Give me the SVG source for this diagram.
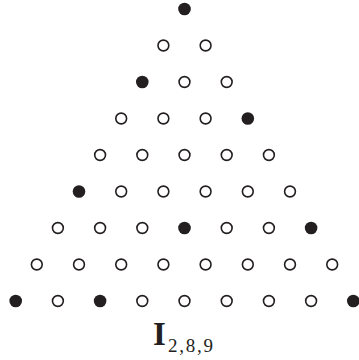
<svg xmlns="http://www.w3.org/2000/svg" width="359" height="360" viewBox="0 0 359 360">
<style>
.f{fill:#231f20}
.o{fill:#fff;stroke:#231f20;stroke-width:1.6}
.t{font-family:"Liberation Serif","DejaVu Serif",serif;fill:#231f20}
</style>
<rect width="359" height="360" fill="#fff"/>
<g id="dots">
<circle class="f" cx="184.5" cy="9" r="6.3"/>
<circle class="o" cx="163.4" cy="45.5" r="5.4"/><circle class="o" cx="205.6" cy="45.5" r="5.4"/>
<circle class="f" cx="142.3" cy="82" r="6.3"/><circle class="o" cx="184.5" cy="82" r="5.4"/><circle class="o" cx="226.7" cy="82" r="5.4"/>
<circle class="o" cx="121.2" cy="118.5" r="5.4"/><circle class="o" cx="163.4" cy="118.5" r="5.4"/><circle class="o" cx="205.6" cy="118.5" r="5.4"/><circle class="f" cx="247.8" cy="118.5" r="6.3"/>
<circle class="o" cx="100.1" cy="155" r="5.4"/><circle class="o" cx="142.3" cy="155" r="5.4"/><circle class="o" cx="184.5" cy="155" r="5.4"/><circle class="o" cx="226.7" cy="155" r="5.4"/><circle class="o" cx="268.9" cy="155" r="5.4"/>
<circle class="f" cx="79" cy="191.5" r="6.3"/><circle class="o" cx="121.2" cy="191.5" r="5.4"/><circle class="o" cx="163.4" cy="191.5" r="5.4"/><circle class="o" cx="205.6" cy="191.5" r="5.4"/><circle class="o" cx="247.8" cy="191.5" r="5.4"/><circle class="o" cx="290" cy="191.5" r="5.4"/>
<circle class="o" cx="57.9" cy="228" r="5.4"/><circle class="o" cx="100.1" cy="228" r="5.4"/><circle class="o" cx="142.3" cy="228" r="5.4"/><circle class="f" cx="184.5" cy="228" r="6.3"/><circle class="o" cx="226.7" cy="228" r="5.4"/><circle class="o" cx="268.9" cy="228" r="5.4"/><circle class="f" cx="311.1" cy="228" r="6.3"/>
<circle class="o" cx="36.8" cy="264.5" r="5.4"/><circle class="o" cx="79" cy="264.5" r="5.4"/><circle class="o" cx="121.2" cy="264.5" r="5.4"/><circle class="o" cx="163.4" cy="264.5" r="5.4"/><circle class="o" cx="205.6" cy="264.5" r="5.4"/><circle class="o" cx="247.8" cy="264.5" r="5.4"/><circle class="o" cx="290" cy="264.5" r="5.4"/><circle class="o" cx="332.2" cy="264.5" r="5.4"/>
<circle class="f" cx="15.7" cy="301" r="6.3"/><circle class="o" cx="57.9" cy="301" r="5.4"/><circle class="f" cx="100.1" cy="301" r="6.3"/><circle class="o" cx="142.3" cy="301" r="5.4"/><circle class="o" cx="184.5" cy="301" r="5.4"/><circle class="o" cx="226.7" cy="301" r="5.4"/><circle class="o" cx="268.9" cy="301" r="5.4"/><circle class="o" cx="311.1" cy="301" r="5.4"/><circle class="f" cx="353.3" cy="301" r="6.3"/>
</g>
<g id="label">
<text class="t" x="153" y="345" font-size="33" font-weight="bold">I</text>
<text class="t" x="168" y="352" font-size="19" textLength="45" lengthAdjust="spacing">2,8,9</text>
</g>
</svg>
